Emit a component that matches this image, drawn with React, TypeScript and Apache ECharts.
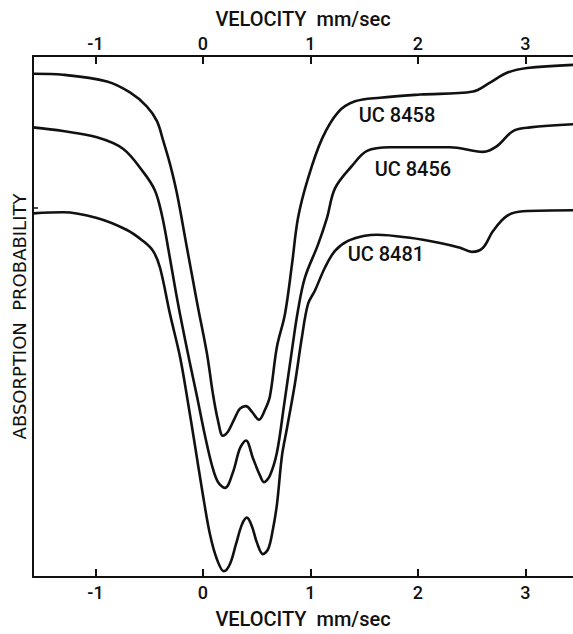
import React, { useEffect, useRef } from "react";
import * as echarts from "echarts";

// Velocity (mm/sec) and relative absorption (arbitrary units, 0 = bottom of frame, 100 = top)
const vel8458 = [-1.581, -1.302, -0.893, -0.679, -0.521, -0.428, -0.372, -0.307, -0.242, -0.149, -0.056, 0.037, 0.093, 0.14, 0.186, 0.233, 0.298, 0.344, 0.4, 0.456, 0.521, 0.577, 0.623, 0.688, 0.763, 0.828, 0.884, 0.977, 1.107, 1.256, 1.414, 1.647, 2.019, 2.512, 2.67, 2.828, 3.014, 3.442];
const abs8458 = [96.6, 96.4, 95.1, 93.0, 90.3, 87.5, 83.9, 79.3, 73.6, 63.2, 52.8, 42.9, 35.1, 30.0, 27.1, 27.9, 30.6, 32.3, 32.8, 31.7, 30.2, 32.1, 34.7, 44.2, 50.5, 60.0, 68.9, 76.5, 84.1, 89.2, 91.3, 92.0, 92.6, 93.2, 94.9, 96.8, 97.7, 98.3];

const vel8456 = [-1.581, -1.302, -0.986, -0.744, -0.558, -0.447, -0.381, -0.326, -0.26, -0.214, -0.121, -0.056, 0.019, 0.084, 0.14, 0.205, 0.279, 0.344, 0.4, 0.465, 0.53, 0.567, 0.623, 0.688, 0.753, 0.828, 0.884, 0.949, 1.07, 1.153, 1.228, 1.386, 1.526, 1.74, 2.298, 2.605, 2.735, 2.884, 3.042, 3.442];
const abs8456 = [86.3, 85.6, 84.4, 82.2, 77.8, 74.2, 69.4, 63.4, 55.6, 50.5, 41.0, 34.7, 27.1, 21.4, 18.2, 17.1, 20.1, 24.7, 26.2, 22.8, 19.5, 18.2, 19.5, 23.9, 32.8, 43.6, 51.2, 57.5, 63.8, 68.9, 74.6, 78.9, 81.8, 82.5, 82.5, 81.6, 82.7, 85.6, 86.3, 86.9];

const vel8481 = [-1.581, -1.302, -0.986, -0.707, -0.558, -0.465, -0.4, -0.307, -0.214, -0.149, -0.074, 0.0, 0.065, 0.13, 0.195, 0.251, 0.307, 0.363, 0.409, 0.456, 0.502, 0.558, 0.605, 0.642, 0.688, 0.735, 0.781, 0.856, 0.921, 0.977, 1.042, 1.135, 1.228, 1.349, 1.507, 1.619, 1.926, 2.205, 2.391, 2.502, 2.605, 2.698, 2.828, 2.977, 3.442];
const abs8481 = [69.8, 70.0, 68.9, 66.6, 64.5, 62.6, 59.4, 50.5, 42.3, 34.7, 25.2, 15.7, 8.2, 3.4, 1.1, 2.5, 6.3, 10.1, 11.4, 9.7, 6.6, 4.4, 5.3, 8.2, 13.9, 23.3, 28.5, 37.2, 46.1, 52.4, 55.0, 59.4, 62.6, 64.5, 65.5, 65.7, 65.1, 64.1, 63.2, 62.4, 63.2, 66.4, 69.3, 70.2, 70.4];

const seriesNames = ["UC 8458", "UC 8456", "UC 8481"];
const labelPos = [
  [1.805, 88.6],
  [1.953, 78.4],
  [1.702, 62.0],
];
const velocityTicks = [-1, 0, 1, 2, 3];
const yTickMarks = [70.8];
const xMin = -1.581;
const xMax = 3.442;

const zip = (a: number[], b: number[]) => a.map((v, i) => [v, b[i]]);

export default function App() {
  const ref = useRef<HTMLDivElement>(null);
  useEffect(() => {
    if (!ref.current) return;
    const chart = echarts.init(ref.current, null, { renderer: "svg" });
    const font = "Roboto";
    const ink = "#111";
    const curves = [zip(vel8458, abs8458), zip(vel8456, abs8456), zip(vel8481, abs8481)];
    const xCommon = {
      type: "value" as const,
      min: xMin,
      max: xMax,
      splitLine: { show: false },
      axisLine: { show: true, onZero: false, lineStyle: { color: ink, width: 2 } },
      axisTick: { show: true, inside: true, length: 8, customValues: velocityTicks, lineStyle: { color: ink, width: 2 } },
      axisLabel: {
        show: true,
        customValues: velocityTicks,
        color: ink,
        fontSize: 18,
        fontFamily: font,
        fontWeight: 500,
        formatter: (v: number) => String(v),
      },
      name: "VELOCITY  mm/sec",
      nameLocation: "middle" as const,
      nameTextStyle: { color: ink, fontSize: 20, fontFamily: font, fontWeight: 500 },
    };
    chart.setOption({
      animation: false,
      backgroundColor: "#fff",
      grid: { left: 33, right: 0, top: 56, bottom: 51, containLabel: false },
      xAxis: [
        { ...xCommon, position: "bottom", nameGap: 32, axisLabel: { ...xCommon.axisLabel, margin: 6 } },
        { ...xCommon, position: "top", nameGap: 26, axisLabel: { ...xCommon.axisLabel, margin: 4 } },
      ],
      yAxis: {
        type: "value",
        position: "left",
        min: 0,
        max: 100,
        splitLine: { show: false },
        axisLine: { show: true, onZero: false, lineStyle: { color: ink, width: 2 } },
        axisTick: { show: true, inside: true, length: 5, customValues: yTickMarks, lineStyle: { color: ink, width: 1.5 } },
        axisLabel: { show: false },
        name: "ABSORPTION  PROBABILITY",
        nameLocation: "middle",
        nameRotate: 90,
        nameGap: 5,
        nameTextStyle: { color: ink, fontSize: 18, fontFamily: "DejaVu Sans" },
      },
      series: curves.map((d, i) => ({
        type: "line",
        name: seriesNames[i],
        data: d,
        xAxisIndex: 0,
        smooth: 0.35,
        showSymbol: false,
        symbol: "none",
        lineStyle: { color: ink, width: 2.6 },
        markPoint: {
          symbol: "circle",
          symbolSize: 0,
          silent: true,
          data: [
            {
              coord: labelPos[i],
              label: {
                show: true,
                position: "inside",
                formatter: seriesNames[i],
                color: ink,
                fontSize: 20,
                fontFamily: font,
                fontWeight: 500,
              },
            },
          ],
        },
      })),
    });
    return () => chart.dispose();
  }, []);
  return (
    <div
      ref={ref}
      style={{ position: "fixed", left: 0, top: 0, width: 573, height: 634, background: "#fff" }}
    />
  );
}
